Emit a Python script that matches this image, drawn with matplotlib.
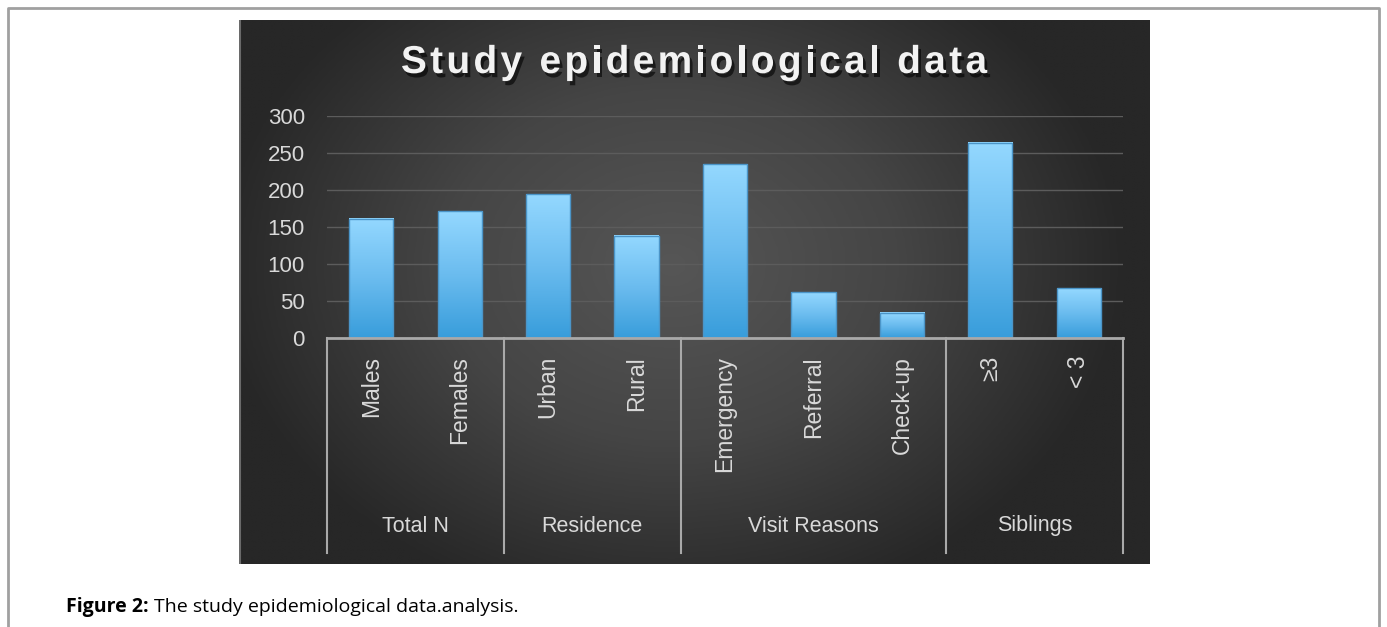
import matplotlib
matplotlib.use("Agg")
import matplotlib.pyplot as plt
import matplotlib.patheffects as pe
import numpy as np
from matplotlib.colors import LinearSegmentedColormap
from matplotlib.font_manager import FontProperties
from matplotlib.transforms import blended_transform_factory

# data
categories = ["Males", "Females", "Urban", "Rural", "Emergency", "Referral",
              "Check-up", "\u22653", "< 3"]
values = [161, 171, 194, 138, 235, 62, 34, 264, 67]
groups = ["Total N", "Residence", "Visit Reasons", "Siblings"]
group_sizes = [2, 2, 3, 2]
yticks = [0, 50, 100, 150, 200, 250, 300]
title = "Study epidemiological data"

W, H = 1387, 627
fig = plt.figure(figsize=(W / 100, H / 100), dpi=100)
fig.patch.set_facecolor("white")
renderer = fig.canvas.get_renderer()


def text_w(s, prop):
    # width in pixels of a string
    w, _, _ = renderer.get_text_width_height_descent(s, prop, ismath=False)
    return w


# outer thin frame of the page
frame = fig.add_axes([0, 0, 1, 1], zorder=-5)
frame.set_xlim(0, W)
frame.set_ylim(H, 0)
frame.axis("off")
frame.plot([8, 8, 1379, 1379], [H + 5, 8, 8, H + 5], color="#a0a0a0", lw=2)

# dark panel with radial gradient
px0, px1, py0, py1 = 239, 1150, 20, 564
panel = fig.add_axes([px0 / W, 1 - py1 / H, (px1 - px0) / W, (py1 - py0) / H], zorder=-2)
gx, gy = np.meshgrid(np.linspace(-1, 1, 400), np.linspace(-1, 1, 300))
r = np.sqrt(((gx + 0.05) / 1.0) ** 2 + ((gy + 0.1) / 1.3) ** 2)
bg_cmap = LinearSegmentedColormap.from_list("bg", ["#565656", "#454545", "#272727"])
panel.imshow(np.clip(r, 0, 1), cmap=bg_cmap, aspect="auto", extent=(0, 1, 0, 1),
             vmin=0, vmax=1, interpolation="bilinear")
panel.set_xlim(0, 1)
panel.set_ylim(0, 1)
panel.axis("off")
panel.axvline(0.001, color="#6a6a6a", lw=1.5)

# title, drawn letter by letter to get the wide tracking
tprop = FontProperties(family="Liberation Sans", weight="bold", size=28)
spacing = 3.3
bar_w = text_w("I", tprop)
offs = [text_w(title[:i] + "I", tprop) - bar_w + i * spacing for i in range(len(title))]
total = offs[-1] + text_w(title[-1], tprop)
start = 694 - total / 2
shadow = [pe.withSimplePatchShadow(offset=(2, -3), shadow_rgbFace="black", alpha=0.6)]
for ch, o in zip(title, offs):
    if ch == " ":
        continue
    fig.text((start + o) / W, 1 - 63 / H, ch, ha="left", va="center",
             fontproperties=tprop, color="#f2f2f2", path_effects=shadow)

# main plotting area
ax0, ax1, ay0, ay1 = 327, 1123, 338, 116
ax = fig.add_axes([ax0 / W, 1 - ay0 / H, (ax1 - ax0) / W, (ay0 - ay1) / H])
ax.patch.set_alpha(0)
x = np.arange(len(categories))

bar_cmap = LinearSegmentedColormap.from_list("bar", ["#389ddb", "#6bbcef", "#94d8ff"])
grad = np.linspace(0, 1, 256).reshape(-1, 1)
bw = 0.5
for xi, v in zip(x, values):
    ax.imshow(grad, cmap=bar_cmap, origin="lower", aspect="auto",
              extent=(xi - bw / 2, xi + bw / 2, 0, v), zorder=3,
              interpolation="bilinear")
ax.bar(x, values, width=bw, facecolor="none", edgecolor="#4b95c8", lw=1, zorder=4)
ax.set_xlim(-0.5, len(categories) - 0.5)
ax.set_ylim(0, 300)

ax.set_yticks(yticks)
ax.yaxis.grid(True, color="#5c5c5c", lw=1)
ax.set_axisbelow(True)
ax.tick_params(axis="y", length=0, pad=16, labelsize=16, labelcolor="#d9d9d9")
for lbl in ax.get_yticklabels():
    lbl.set_family("Liberation Sans")
ax.set_xticks([])
for s in ax.spines.values():
    s.set_visible(False)

# category box below the axis
tr = blended_transform_factory(ax.transData, ax.transAxes)
line_c = "#a9a9a9"
bottom = (ay0 - 553) / (ay0 - ay1)
ax.plot([-0.5, len(categories) - 0.5], [0, 0], transform=tr, color=line_c, lw=2,
        clip_on=False, zorder=5)
edges = np.concatenate([[0], np.cumsum(group_sizes)]) - 0.5
for e in edges:
    ax.plot([e, e], [0, bottom], transform=tr, color=line_c, lw=1.5, clip_on=False)

label_y = (ay0 - 356) / (ay0 - ay1)
for xi, c in zip(x, categories):
    ax.text(xi, label_y, c, transform=tr, rotation=90, ha="center", va="top",
            fontsize=16.5, color="#d9d9d9", family=["Liberation Sans", "DejaVu Sans"])

group_y = (ay0 - 526) / (ay0 - ay1)
for g, a, b in zip(groups, edges[:-1], edges[1:]):
    ax.text((a + b) / 2, group_y, g, transform=tr, ha="center", va="center",
            fontsize=15.5, color="#d9d9d9", family="Liberation Sans")

# caption
bprop = FontProperties(family="Open Sans", weight="bold", size=14)
nprop = FontProperties(family="Open Sans", size=14)
fig.text(66 / W, 1 - 607 / H, "Figure 2:", fontproperties=bprop,
         va="center", ha="left", color="black")
cx = 66 + text_w("Figure 2:", bprop) + 5
fig.text(cx / W, 1 - 607 / H, "The study epidemiological data.analysis.",
         fontproperties=nprop, va="center", ha="left", color="black")

fig.savefig("out.png", dpi=100, facecolor=fig.get_facecolor())
